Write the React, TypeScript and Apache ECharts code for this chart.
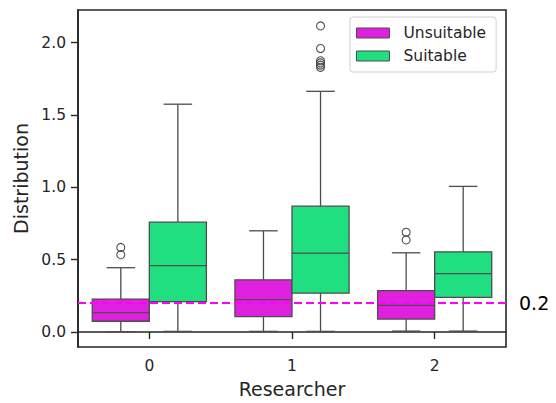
import React, { useEffect, useRef } from "react";
import * as echarts from "echarts";

const categories = ["0", "1", "2"];
// [min whisker, Q1, median, Q3, max whisker]
const unsuitableStats = [
  [0.003, 0.075, 0.135, 0.228, 0.445],
  [0.005, 0.107, 0.224, 0.361, 0.7],
  [0.007, 0.09, 0.185, 0.287, 0.548],
];
const suitableStats = [
  [0.005, 0.21, 0.459, 0.76, 1.575],
  [0.005, 0.269, 0.546, 0.87, 1.664],
  [0.007, 0.24, 0.404, 0.555, 1.007],
];
const unsuitableFliers = [[0.535, 0.585], [], [0.637, 0.69]];
const suitableFliers = [[], [1.83, 1.845, 1.86, 1.875, 1.96, 2.116], []];
const yTicks = [0, 0.5, 1, 1.5, 2];
const threshold = 0.2;

const MAG = "#df20df";
const GREEN = "#20df80";
const EDGE = "#4d4d4d";
const INK = "#262626";
const FONT = "DejaVu Sans";

function boxRender(sign: number) {
  return (params: any, api: any) => {
    const cat = api.value(0);
    const [mn, q1, med, q3, mx] = [1, 2, 3, 4, 5].map((i) => api.value(i));
    const band = api.size([1, 0])[0];
    const bw = band * 0.4;
    const cx = api.coord([cat, 0])[0] + (sign * bw) / 2;
    const y = (v: number) => api.coord([cat, v])[1];
    const ls = { stroke: EDGE, lineWidth: 1.3, fill: null };
    const cap = bw / 4;
    return {
      type: "group",
      children: [
        { type: "line", shape: { x1: cx, y1: y(q1), x2: cx, y2: y(mn) }, style: ls },
        { type: "line", shape: { x1: cx, y1: y(q3), x2: cx, y2: y(mx) }, style: ls },
        { type: "line", shape: { x1: cx - cap, y1: y(mn), x2: cx + cap, y2: y(mn) }, style: ls },
        { type: "line", shape: { x1: cx - cap, y1: y(mx), x2: cx + cap, y2: y(mx) }, style: ls },
        {
          type: "rect",
          shape: { x: cx - bw / 2, y: y(q3), width: bw, height: y(q1) - y(q3) },
          style: { fill: api.visual("color"), stroke: EDGE, lineWidth: 1.3 },
        },
        { type: "line", shape: { x1: cx - bw / 2, y1: y(med), x2: cx + bw / 2, y2: y(med) }, style: ls },
      ],
    };
  };
}

function flierRender(sign: number) {
  return (params: any, api: any) => {
    const cat = api.value(0);
    const v = api.value(1);
    const band = api.size([1, 0])[0];
    const bw = band * 0.4;
    const p = api.coord([cat, v]);
    return {
      type: "circle",
      shape: { cx: p[0] + (sign * bw) / 2, cy: p[1], r: 4 },
      style: { fill: "none", stroke: EDGE, lineWidth: 1.1 },
    };
  };
}

const boxData = (stats: number[][]) => stats.map((s, i) => [i, ...s]);
const flierData = (fl: number[][]) => {
  const out: number[][] = [];
  fl.forEach((arr, i) => arr.forEach((v) => out.push([i, v])));
  return out;
};

export default function App() {
  const ref = useRef<HTMLDivElement>(null);
  useEffect(() => {
    if (!ref.current) return;
    const chart = echarts.init(ref.current, null, { renderer: "svg" });
    chart.setOption({
      animation: false,
      backgroundColor: "#fff",
      textStyle: { fontFamily: FONT },
      grid: {
        left: 78,
        right: 50,
        top: 10,
        bottom: 53,
        show: true,
        borderColor: INK,
        borderWidth: 1.6,
        backgroundColor: "transparent",
      },
      legend: {
        orient: "vertical",
        left: 350,
        top: 17,
        padding: [8, 10, 8, 6],
        itemGap: 7,
        itemWidth: 33,
        itemHeight: 10,
        icon: "rect",
        borderColor: "#d0d0d0",
        borderWidth: 1,
        borderRadius: 3,
        backgroundColor: "rgba(255,255,255,0.85)",
        textStyle: { fontFamily: FONT, fontSize: 15.5, color: INK, padding: [0, 0, 0, 9] },
        data: [
          { name: "Unsuitable", itemStyle: { color: MAG, borderColor: EDGE, borderWidth: 1 } },
          { name: "Suitable", itemStyle: { color: GREEN, borderColor: EDGE, borderWidth: 1 } },
        ],
      },
      xAxis: {
        type: "category",
        data: categories,
        boundaryGap: true,
        name: "Researcher",
        nameLocation: "middle",
        nameGap: 32,
        nameTextStyle: { fontFamily: FONT, fontSize: 19, color: INK },
        axisLine: { show: true, lineStyle: { color: INK, width: 1.6 } },
        axisTick: { show: true, alignWithLabel: true, length: 7, lineStyle: { color: INK, width: 1.4 } },
        axisLabel: { fontFamily: FONT, fontSize: 15.5, color: INK, margin: 11 },
        splitLine: { show: false },
      },
      yAxis: {
        type: "value",
        min: -0.103,
        max: 2.226,
        name: "Distribution",
        nameLocation: "middle",
        nameGap: 40,
        nameTextStyle: { fontFamily: FONT, fontSize: 19, color: INK },
        axisLine: { show: true, lineStyle: { color: INK, width: 1.6 } },
        axisTick: { show: true, length: 7, customValues: yTicks, lineStyle: { color: INK, width: 1.4 } },
        axisLabel: {
          fontFamily: FONT,
          fontSize: 15.5,
          color: INK,
          margin: 12,
          customValues: yTicks,
          formatter: (v: number) => v.toFixed(1),
        },
        splitLine: { show: false },
      },
      series: [
        {
          name: "Unsuitable",
          type: "custom",
          itemStyle: { color: MAG },
          renderItem: boxRender(-1),
          encode: { x: 0, y: [1, 2, 3, 4, 5] },
          data: boxData(unsuitableStats),
          z: 2,
        },
        {
          name: "Suitable",
          type: "custom",
          itemStyle: { color: GREEN },
          renderItem: boxRender(1),
          encode: { x: 0, y: [1, 2, 3, 4, 5] },
          data: boxData(suitableStats),
          z: 2,
        },
        {
          name: "Unsuitable outliers",
          type: "custom",
          renderItem: flierRender(-1),
          encode: { x: 0, y: 1 },
          data: flierData(unsuitableFliers),
          z: 3,
        },
        {
          name: "Suitable outliers",
          type: "custom",
          renderItem: flierRender(1),
          encode: { x: 0, y: 1 },
          data: flierData(suitableFliers),
          z: 3,
        },
        {
          name: "Threshold",
          type: "line",
          data: [],
          z: 5,
          markLine: {
            silent: true,
            symbol: ["none", "none"],
            lineStyle: { color: "#ff00ff", width: 2, type: [8, 4] },
            label: {
              show: true,
              position: "end",
              distance: 13,
              formatter: String(threshold),
              fontFamily: FONT,
              fontSize: 19,
              color: "#000",
            },
            data: [{ yAxis: threshold }],
          },
        },
      ],
    });
    return () => chart.dispose();
  }, []);
  return (
    <div
      ref={ref}
      style={{ position: "absolute", left: 0, top: 0, width: 556, height: 403 }}
    />
  );
}
